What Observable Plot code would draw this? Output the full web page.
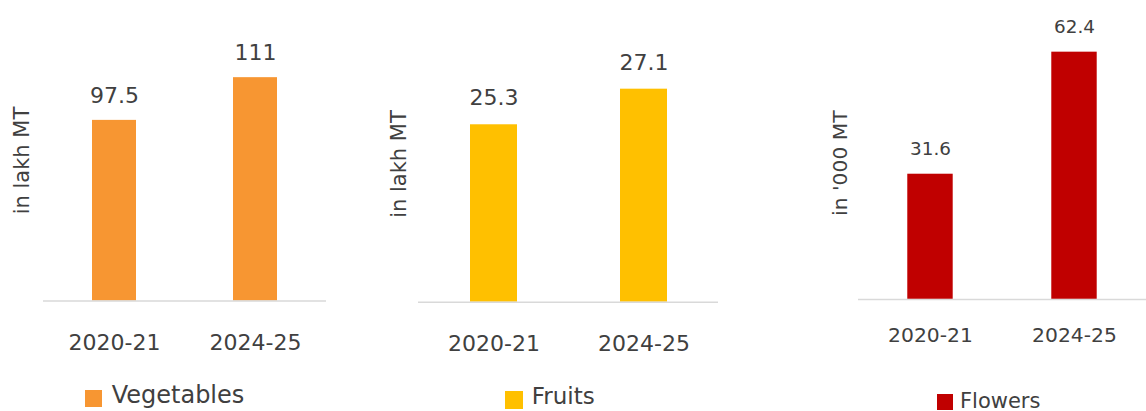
<!DOCTYPE html>
<html><head><meta charset="utf-8">
<script src="https://cdn.jsdelivr.net/npm/d3@7"></script>
<script src="https://cdn.jsdelivr.net/npm/@observablehq/plot@0.6"></script>
<style>
html,body{margin:0;padding:0;background:#fff;overflow:hidden;width:1146px;height:411px}
#root{position:relative;width:1146px;height:411px;font-family:"DejaVu Sans",sans-serif;color:#404040;overflow:hidden}
.panel{position:absolute;top:0}
.panel svg{overflow:visible}
.sw{position:absolute}
.lt{position:absolute;line-height:1;white-space:nowrap;color:#404040}
</style></head><body><div id="root"></div>
<script>
const years = ["2020-21", "2024-25"];
const vegetables = [97.5, 111];
const fruits = [25.3, 27.1];
const flowers = [31.6, 62.4];
const seriesNames = ["Vegetables", "Fruits", "Flowers"];
const unitLabels = ["in lakh MT", "in lakh MT", "in '000 MT"];
const colors = ["#F79632", "#FFC000", "#C00000"];
const seriesValues = [vegetables, fruits, flowers];

const layouts = [
  {left: 0, width: 340, height: 370, mL: 43, mR: 14, mT: 48.7, mB: 69.5, yDomain: [40.4, 120], padIn: 0.689,
   valueFont: 22, valueDy: -17.5, tickFont: 22, tickPad: 33.2, labelFont: 21, labelDx: -15, labelDy: -14.6,
   sw: {x: 85, y: 390, s: 17}, lt: {x: 111.7, y: 383, f: 24}},
  {left: 370, width: 360, height: 370, mL: 48, mR: 12, mT: 51.1, mB: 68.3, yDomain: [16.33, 29], padIn: 0.687,
   valueFont: 22, valueDy: -19.5, tickFont: 22, tickPad: 32.7, labelFont: 21, labelDx: -13, labelDy: -12.9,
   sw: {x: 505, y: 391.3, s: 17.5}, lt: {x: 531.7, y: 385.2, f: 23}},
  {left: 800, width: 358, height: 370, mL: 60, mR: 0, mT: 22.3, mB: 60.7, yDomain: [0, 70], padIn: 0.685,
   valueFont: 19, valueDy: -19.5, tickFont: 21, tickPad: 29.1, labelFont: 21, labelDx: -12, labelDy: 2.5,
   sw: {x: 936.7, y: 394.3, s: 16}, lt: {x: 960, y: 390.5, f: 21}}
];

const root = document.getElementById("root");

layouts.forEach((cfg, i) => {
  const data = years.map((yr, j) => ({year: yr, value: seriesValues[i][j]}));
  const base = cfg.yDomain[0];
  const svg = Plot.plot({
    width: cfg.width, height: cfg.height,
    marginLeft: cfg.mL, marginRight: cfg.mR, marginTop: cfg.mT, marginBottom: cfg.mB,
    style: {fontFamily: "DejaVu Sans, sans-serif", color: "#404040", background: "transparent", overflow: "visible"},
    x: {domain: years, paddingInner: cfg.padIn, paddingOuter: cfg.padIn / 2, align: 0.5, label: null, axis: null},
    y: {domain: cfg.yDomain, axis: null},
    marks: [
      Plot.barY(data, {x: "year", y1: () => base, y2: "value", fill: colors[i]}),
      Plot.ruleY([base], {stroke: "#D9D9D9", strokeWidth: 1.5}),
      Plot.text(data, {x: "year", y: "value", text: d => String(d.value), lineAnchor: "bottom",
        dy: cfg.valueDy, fontSize: cfg.valueFont, fill: "#404040"}),
      Plot.axisX({tickSize: 0, tickPadding: cfg.tickPad, fontSize: cfg.tickFont, label: null, fill: "#404040"}),
      Plot.text([unitLabels[i]], {text: d => d, frameAnchor: "left", textAnchor: "middle", rotate: -90, lineAnchor: "bottom",
        dx: cfg.labelDx, dy: cfg.labelDy, fontSize: cfg.labelFont, fill: "#404040"})
    ]
  });
  const wrap = document.createElement("div");
  wrap.className = "panel";
  wrap.style.left = cfg.left + "px";
  wrap.appendChild(svg);
  root.appendChild(wrap);

  const sw = document.createElement("div");
  sw.className = "sw";
  Object.assign(sw.style, {left: cfg.sw.x + "px", top: cfg.sw.y + "px", width: cfg.sw.s + "px", height: cfg.sw.s + "px", background: colors[i]});
  root.appendChild(sw);
  const lt = document.createElement("div");
  lt.className = "lt";
  lt.textContent = seriesNames[i];
  Object.assign(lt.style, {left: cfg.lt.x + "px", top: cfg.lt.y + "px", fontSize: cfg.lt.f + "px"});
  root.appendChild(lt);
});
</script></body></html>
